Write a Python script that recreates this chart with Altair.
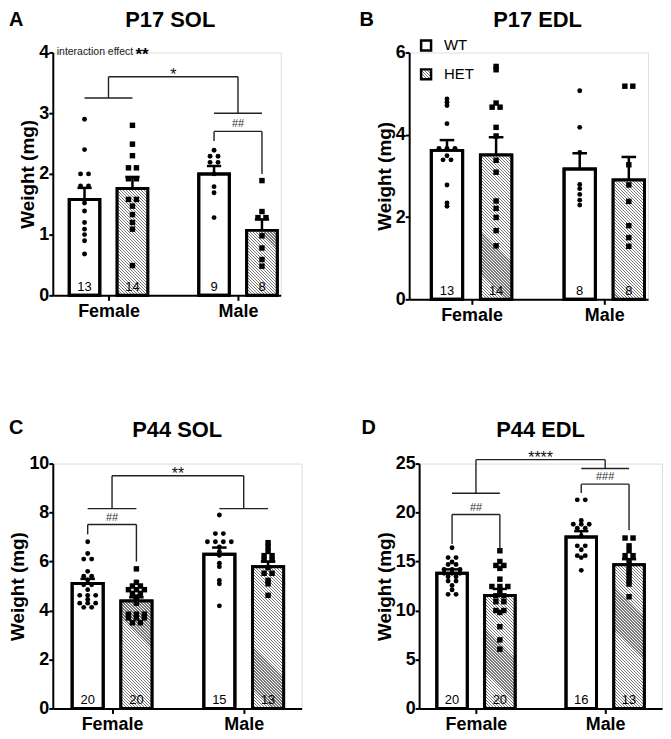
import altair as alt
import pandas as pd

FONT = "Liberation Sans"
sexes = ["Female", "Male"]
genotypes = ["WT", "HET"]

# ---------------- Panel A : P17 SOL ----------------
A_F_WT = [2.90, 2.40, 2.00, 2.00, 1.80, 1.80, 1.52, 1.39, 1.20, 1.09, 1.00, 0.90, 0.68]
A_F_HET = [2.80, 2.49, 2.30, 2.10, 2.10, 1.92, 1.92, 1.58, 1.58, 1.47, 1.33, 1.20, 1.09, 0.49]
A_M_WT = [2.39, 2.29, 2.29, 2.19, 2.19, 2.00, 1.79, 1.69, 1.28]
A_M_HET = [1.89, 1.38, 1.28, 1.28, 0.98, 0.78, 0.59, 0.48]
A_mean = [1.58, 1.76, 2.00, 1.07]
A_sem = [0.19, 0.19, 0.13, 0.18]
A_n = [13, 14, 9, 8]

# ---------------- Panel B : P17 EDL ----------------
B_F_WT = [4.87, 4.79, 4.71, 4.27, 3.67, 3.67, 3.67, 3.49, 3.39, 3.39, 2.78, 2.34, 2.26]
B_F_HET = [5.66, 5.58, 4.77, 4.67, 4.67, 4.18, 3.97, 3.38, 3.09, 2.39, 2.21, 1.99, 1.67, 1.30]
B_M_WT = [5.07, 4.18, 3.57, 2.79, 2.69, 2.55, 2.41, 2.29]
B_M_HET = [5.18, 5.18, 3.27, 2.78, 2.38, 1.79, 1.50, 1.29]
B_mean = [3.62, 3.51, 3.17, 2.90]
B_sem = [0.25, 0.43, 0.38, 0.56]
B_n = [13, 14, 8, 8]

# ---------------- Panel C : P44 SOL ----------------
C_F_WT = [6.81, 6.33, 6.10, 6.10, 5.60, 5.40, 5.40, 5.25, 5.05, 5.05, 4.85, 4.62, 4.62, 4.62,
          4.45, 4.30, 4.30, 4.30, 4.13, 4.13]
C_F_HET = [5.70, 5.15, 5.00, 5.00, 4.85, 4.85, 4.85, 4.70, 4.70, 4.55, 4.45, 4.30, 3.85, 3.85,
           3.85, 3.70, 3.70, 3.70, 3.50, 3.50]
C_M_WT = [7.90, 7.14, 7.14, 6.81, 6.81, 6.81, 6.81, 6.60, 6.40, 6.25, 5.93, 5.79, 5.23, 5.09, 4.19]
C_M_HET = [6.77, 6.60, 6.41, 6.24, 6.24, 6.06, 6.06, 5.75, 5.52, 5.52, 5.23, 5.09, 4.62]
C_mean = [5.10, 4.39, 6.30, 5.79]
C_sem = [0.19, 0.15, 0.27, 0.21]
C_n = [20, 20, 15, 13]

# ---------------- Panel D : P44 EDL ----------------
D_F_WT = [16.4, 15.4, 15.4, 14.95, 14.7, 14.7, 14.2, 14.2, 14.2, 13.8, 13.8, 13.8, 13.45, 13.45,
          13.0, 13.0, 12.55, 12.1, 11.65, 11.65]
D_F_HET = [16.1, 15.0, 14.6, 14.6, 14.3, 13.2, 12.45, 12.45, 12.45, 12.0, 11.5, 11.5, 10.9, 10.9,
           10.0, 10.0, 9.8, 8.35, 7.0, 6.05]
D_M_WT = [21.3, 21.3, 19.2, 18.8, 18.8, 18.8, 18.4, 18.4, 17.6, 16.6, 16.6, 16.2, 15.6, 15.6, 15.4, 14.1]
D_M_HET = [17.4, 17.4, 16.6, 16.1, 15.6, 15.6, 14.9, 14.4, 13.9, 13.6, 13.1, 12.7, 11.4]
D_mean = [13.8, 11.54, 17.5, 14.67]
D_sem = [0.40, 0.66, 0.60, 0.57]
D_n = [20, 20, 16, 13]

# significance brackets: (top, [female foot, male foot], label)
A_sex_bracket = (3.60, [3.25, 3.00], "*")
C_sex_bracket = (9.50, [8.16, 8.16], "**")
D_sex_bracket = (25.4, [21.97, 24.5], "****")
# genotype brackets: (sex, top, WT foot, HET foot, label)
A_geno_brackets = [("Male", 2.70, 2.54, 2.00, "##")]
C_geno_brackets = [("Female", 7.51, 7.11, 6.00, "##")]
D_geno_brackets = [("Female", 19.8, 16.8, 16.1, "##"), ("Male", 22.9, 22.0, 18.2, "###")]

GENO_OFF = {"WT": -0.185, "HET": 0.185}
HALF_BAR = 0.118
CAP_HALF = 0.055
HATCH_DARK = "#7a7a7a"
HATCH_LIGHT = "#ffffff"
HATCH_PERIOD = 3.0
HATCH_LINE = 1.2
CHUNK = 45.0


def hatch_gradient(w, h, phase=0.0, s=1.25):
    """Diagonal '\\' hatching (hard-stop linear gradient) for a w x h pixel box.
    phase = distance of the box bottom above the bar base, keeps stripes continuous."""
    r = w / h
    L = s * h * (1 + r * r)
    stops = []
    u = -(phase % HATCH_PERIOD)
    while u < L:
        for lo, hi, col in ((u, u + HATCH_LINE, HATCH_DARK), (u + HATCH_LINE, u + HATCH_PERIOD, HATCH_LIGHT)):
            lo2, hi2 = max(lo, 0.0), min(hi, L)
            if hi2 > lo2:
                stops.append({"offset": round(lo2 / L, 5), "color": col})
                stops.append({"offset": round(hi2 / L, 5), "color": col})
        u += HATCH_PERIOD
    return {"gradient": "linear", "x1": 0, "y1": 1, "x2": s * r, "y2": 1 - s, "stops": stops}


def swarm_x(center, values, px_y, px_x, spacing=8.0, tol=1.6):
    order = sorted(range(len(values)), key=lambda i: -values[i])
    rows = []
    for i in order:
        if rows and abs(values[rows[-1][0]] - values[i]) * px_y < tol:
            rows[-1].append(i)
        else:
            rows.append([i])
    xs = [0.0] * len(values)
    for r in rows:
        k = len(r)
        for j, i in enumerate(r):
            xs[i] = center + (j - (k - 1) / 2) * spacing / px_x
    return xs


def build_panel(p):
    w, h = p["width"], p["height"]
    x0, x1 = p["xdom"]
    ymax = p["yticks"][-1]
    px_x = w / (x1 - x0)
    px_y = h / ymax
    xs = alt.Scale(domain=[x0, x1], nice=False, zero=False)
    ys = alt.Scale(domain=[0, ymax], nice=False, zero=True)
    label_expr = "[" + ",".join(f"'{s}'" for s in sexes) + "][datum.value]"
    common = dict(domainColor="black", domainWidth=2, tickColor="black", tickWidth=2,
                  labelColor="black", labelFont=FONT, labelFontWeight="bold", labelFontSize=18,
                  grid=False)
    xaxis = alt.Axis(values=list(range(len(sexes))), labelExpr=label_expr, title=None,
                     tickSize=5, labelPadding=2, **common)
    yaxis = alt.Axis(values=p["yticks"], format="d", title="Weight (mg)", tickSize=4,
                     labelPadding=0, titleFont=FONT, titleFontWeight="bold", titleFontSize=19,
                     titleColor="black", titlePadding=1, **common)

    def X(f):
        return alt.X(f, type="quantitative", scale=xs, axis=xaxis)

    def Y(f):
        return alt.Y(f, type="quantitative", scale=ys, axis=yaxis)

    brows, prows = [], []
    for si, s in enumerate(sexes):
        for gi, g in enumerate(genotypes):
            k = si * 2 + gi
            c = si + GENO_OFF[g]
            m = p["mean"][k]
            brows.append(dict(sex=s, geno=g, xc=c, xl=c - HALF_BAR, xr=c + HALF_BAR,
                              cl=c - CAP_HALF, cr=c + CAP_HALF, mean=m, top=m + p["sem"][k],
                              n=str(p["n"][k]), base=0.0))
            vals = p["points"][k]
            for v, xv in zip(vals, swarm_x(c, vals, px_y, px_x)):
                prows.append(dict(sex=s, geno=g, v=v, x=xv))
    bdf = pd.DataFrame(brows)
    pdf = pd.DataFrame(prows)

    fill = alt.Fill("geno:N", scale=alt.Scale(domain=genotypes, range=["white", "#cfcfcf"]),
                    legend=None)
    bars = alt.Chart(bdf).mark_bar(stroke="black", strokeWidth=3).encode(
        x=X("xl"), x2=alt.X2("xr"), y=Y("mean"), y2=alt.Y2("base"), fill=fill)
    layers = [bars]

    # hatching of HET bars, in stacked chunks so each gradient stays short
    bar_w = 2 * HALF_BAR * px_x
    for _, row in bdf[bdf.geno == "HET"].iterrows():
        h_tot = row["mean"] * px_y
        b = 0.0
        while b < h_tot - 0.01:
            t = b + CHUNK
            if h_tot - t < CHUNK / 2:
                t = h_tot
            bottom = b - 1.0 if b > 0 else 0.0
            grad = hatch_gradient(bar_w, t - bottom, phase=bottom)
            cdf = pd.DataFrame({"xl": [row["xl"]], "xr": [row["xr"]],
                                "y0": [bottom / px_y], "y1": [t / px_y]})
            layers.append(alt.Chart(cdf).mark_bar(fill=grad, strokeWidth=0).encode(
                x=X("xl"), x2=alt.X2("xr"), y=Y("y1"), y2=alt.Y2("y0")))
            b = t
    outline = alt.Chart(bdf).mark_bar(fillOpacity=0, stroke="black", strokeWidth=3).encode(
        x=X("xl"), x2=alt.X2("xr"), y=Y("mean"), y2=alt.Y2("base"))
    layers.append(outline)

    err = alt.Chart(bdf).mark_rule(color="black", strokeWidth=2.5).encode(
        x=X("xc"), y=Y("mean"), y2=alt.Y2("top"))
    cap = alt.Chart(bdf).mark_rule(color="black", strokeWidth=2.5).encode(
        x=X("cl"), x2=alt.X2("cr"), y=Y("top"))
    circ = alt.Chart(pdf[pdf.geno == "WT"]).mark_circle(size=24, color="black", opacity=1).encode(
        x=X("x"), y=Y("v"))
    sq = alt.Chart(pdf[pdf.geno == "HET"]).mark_square(size=30, color="black", opacity=1).encode(
        x=X("x"), y=Y("v"))
    ntext = alt.Chart(bdf).mark_text(font=FONT, fontSize=13, baseline="alphabetic", dy=-4,
                                     color="black").encode(x=X("xc"), y=Y("base"), text="n:N")
    layers += [err, cap, circ, sq, ntext]

    segs, labs = [], []
    if p.get("sex_bracket"):
        top, feet, lab = p["sex_bracket"]
        for si in range(len(sexes)):
            segs.append(dict(x=si + GENO_OFF["WT"], x2=si + GENO_OFF["HET"], y=feet[si], y2=feet[si]))
            segs.append(dict(x=si, x2=si, y=feet[si], y2=top))
        segs.append(dict(x=0, x2=1, y=top, y2=top))
        labs.append(dict(x=0.5, y=top, t=lab, kind="star"))
    for (s, top, lf, rf, lab) in p.get("geno_brackets", []):
        si = sexes.index(s)
        xl, xr = si + GENO_OFF["WT"], si + GENO_OFF["HET"]
        segs.append(dict(x=xl, x2=xr, y=top, y2=top))
        segs.append(dict(x=xl, x2=xl, y=lf, y2=top))
        segs.append(dict(x=xr, x2=xr, y=rf, y2=top))
        labs.append(dict(x=si, y=top, t=lab, kind="hash"))
    if segs:
        sdf = pd.DataFrame(segs)
        ldf = pd.DataFrame(labs)
        layers.append(alt.Chart(sdf).mark_rule(color="#222222", strokeWidth=1.4).encode(
            x=X("x"), x2=alt.X2("x2"), y=Y("y"), y2=alt.Y2("y2")))
        layers.append(alt.Chart(ldf[ldf.kind == "star"]).mark_text(
            font=FONT, fontSize=16, baseline="alphabetic", dy=3, color="#111111").encode(
            x=X("x"), y=Y("y"), text="t:N"))
        layers.append(alt.Chart(ldf[ldf.kind == "hash"]).mark_text(
            font=FONT, fontSize=11, baseline="alphabetic", dy=-4, color="#333333").encode(
            x=X("x"), y=Y("y"), text="t:N"))

    if p.get("note"):
        note_text, note_stars = p["note"]
        ndf = pd.DataFrame({"t": [note_text], "s": [note_stars], "y": [float(ymax)]})
        layers.append(alt.Chart(ndf).mark_text(font=FONT, fontSize=10.5, align="left",
                                               baseline="middle", color="#222222").encode(
            x=alt.value(4), y=Y("y"), text="t:N"))
        layers.append(alt.Chart(ndf).mark_text(font=FONT, fontSize=17, fontWeight="bold",
                                               align="left", baseline="middle", dy=3,
                                               color="black").encode(
            x=alt.value(83), y=Y("y"), text="s:N"))

    if p.get("legend"):
        lx, ly, gap = p["legend"]
        gdf = pd.DataFrame({"g": genotypes})
        fills = {"WT": "white", "HET": hatch_gradient(10, 10)}
        for i, g in enumerate(genotypes):
            layers.append(alt.Chart(gdf[gdf.g == g]).mark_square(
                size=100, filled=True, fill=fills[g], stroke="black", strokeWidth=2.5,
                opacity=1).encode(x=alt.value(lx), y=alt.value(ly + i * gap)))
            layers.append(alt.Chart(gdf[gdf.g == g]).mark_text(
                font=FONT, fontSize=15, align="left", baseline="middle", color="black").encode(
                x=alt.value(lx + 18), y=alt.value(ly + i * gap), text="g:N"))

    tdf = pd.DataFrame({"t": [p["title"]], "l": [p["letter"]]})
    layers.append(alt.Chart(tdf).mark_text(font=FONT, fontSize=22, fontWeight="bold",
                                           align="center", baseline="middle", color="black").encode(
        x=alt.value(p["title_x"]), y=alt.value(p["title_y"]), text="t:N"))
    layers.append(alt.Chart(tdf).mark_text(font=FONT, fontSize=20, fontWeight="bold",
                                           align="left", baseline="middle", color="black").encode(
        x=alt.value(p["letter_x"]), y=alt.value(p["letter_y"]), text="l:N"))
    return alt.layer(*layers).properties(width=w, height=h)


panelA = build_panel(dict(title="P17 SOL", letter="A", width=229, height=244, xdom=[-0.43, 1.33],
                          yticks=[0, 1, 2, 3, 4], points=[A_F_WT, A_F_HET, A_M_WT, A_M_HET],
                          mean=A_mean, sem=A_sem, n=A_n, sex_bracket=A_sex_bracket,
                          geno_brackets=A_geno_brackets, note=("interaction effect", "**"),
                          title_x=118, title_y=-33, letter_x=-44, letter_y=-33))
panelB = build_panel(dict(title="P17 EDL", letter="B", width=240, height=248, xdom=[-0.47, 1.33],
                          yticks=[0, 2, 4, 6], points=[B_F_WT, B_F_HET, B_M_WT, B_M_HET],
                          mean=B_mean, sem=B_sem, n=B_n,
                          title_x=129, title_y=-33, letter_x=-50, letter_y=-33,
                          legend=(17, -7, 29)))
panelC = build_panel(dict(title="P44 SOL", letter="C", width=250, height=246, xdom=[-0.45, 1.44],
                          yticks=[0, 2, 4, 6, 8, 10], points=[C_F_WT, C_F_HET, C_M_WT, C_M_HET],
                          mean=C_mean, sem=C_sem, n=C_n, sex_bracket=C_sex_bracket,
                          geno_brackets=C_geno_brackets,
                          title_x=125, title_y=-34, letter_x=-44, letter_y=-36))
panelD = build_panel(dict(title="P44 EDL", letter="D", width=244, height=246, xdom=[-0.44, 1.44],
                          yticks=[0, 5, 10, 15, 20, 25], points=[D_F_WT, D_F_HET, D_M_WT, D_M_HET],
                          mean=D_mean, sem=D_sem, n=D_n, sex_bracket=D_sex_bracket,
                          geno_brackets=D_geno_brackets,
                          title_x=122, title_y=-34, letter_x=-58, letter_y=-36))

row1 = alt.hconcat(panelA, panelB, spacing=77).resolve_scale(fill="independent")
row2 = alt.hconcat(panelC, panelD, spacing=58).resolve_scale(fill="independent")
chart = (alt.vconcat(row1, row2, spacing=92)
         .resolve_scale(fill="independent")
         .properties(padding={"left": 0, "top": -2, "right": 0, "bottom": -3}, background="white")
         .configure_view(stroke=None)
         .configure(font=FONT))

chart.save("out.html", embed_options={"renderer": "svg", "actions": False})
